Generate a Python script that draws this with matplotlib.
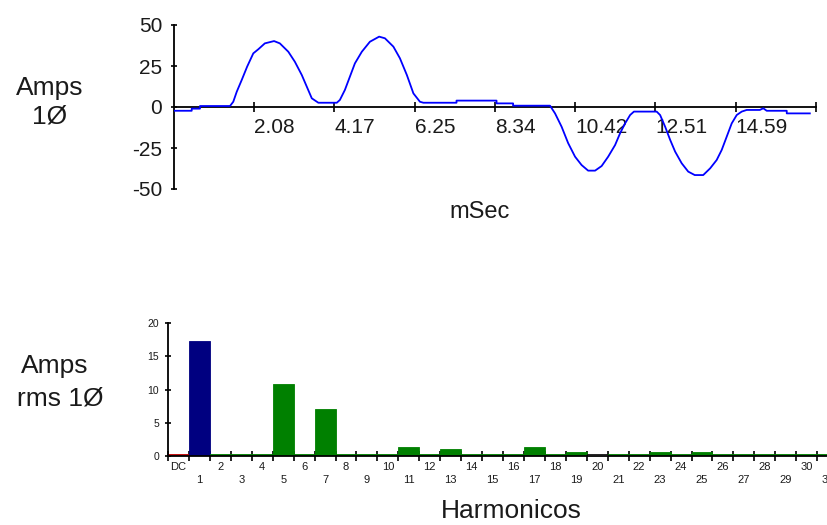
import numpy as np
import matplotlib
matplotlib.use("Agg")
import matplotlib.pyplot as plt

plt.rcParams['font.family'] = ['Liberation Sans', 'DejaVu Sans']

# --- Current waveform (time in ms, current in A) ---
wave_t = [0.00, 0.46, 0.46, 0.675, 0.675, 1.455, 1.54, 1.63, 1.76, 1.90, 2.06,
          2.19, 2.36, 2.60, 2.75, 2.97, 3.14, 3.32, 3.45, 3.58, 3.75, 4.23,
          4.31, 4.44, 4.57, 4.70, 4.88, 5.09, 5.33, 5.48, 5.70, 5.87, 6.05,
          6.22, 6.39, 6.48, 7.34, 7.34, 8.38, 8.38, 8.81, 8.81, 9.77, 9.90,
          10.07, 10.24, 10.42, 10.59, 10.76, 10.94, 11.11, 11.28, 11.46, 11.59,
          11.72, 11.85, 11.95, 12.54, 12.63, 12.76, 12.89, 13.02, 13.19, 13.36,
          13.53, 13.75, 13.93, 14.10, 14.23, 14.36, 14.49, 14.62, 14.75, 14.88,
          15.22, 15.31, 15.40, 15.92, 15.92, 16.52]
wave_a = [-2.3, -2.3, -1.0, -1.0, 0.6, 0.6, 3.2, 9.3, 16.5, 24.6, 32.7,
          35.2, 38.8, 40.2, 38.8, 33.7, 27.6, 19.5, 12.4, 5.3, 2.6, 2.6,
          4.3, 10.4, 18.5, 26.6, 33.7, 39.8, 42.9, 41.9, 36.8, 29.7, 19.5,
          8.3, 3.2, 2.6, 2.6, 3.9, 3.9, 2.2, 2.2, 0.8, 0.8, -3.9,
          -12.0, -22.0, -30.3, -35.4, -38.8, -38.8, -36.0, -30.3, -23.2, -16.0,
          -10.0, -4.9, -2.8, -2.8, -4.9, -12.0, -20.0, -27.2, -34.3, -39.4,
          -41.5, -41.5, -37.4, -32.3, -26.2, -18.1, -10.0, -4.9, -2.8, -1.8,
          -1.8, -0.8, -2.3, -2.3, -3.9, -3.9]

ms_ticks = [2.085, 4.17, 6.255, 8.34, 10.425, 12.51, 14.595, 16.68]
ms_labels = ['2.08', '4.17', '6.25', '8.34', '10.42', '12.51', '14.59', '']
amp_ticks = [50, 25, 0, -25, -50]
amp_labels = ['50', '25', '0', '-25', '-50']

# --- Harmonic spectrum (A rms) ---
harm_names = ['DC'] + [str(n) for n in range(1, 32)]
harm_values = [0.25, 17.3, 0.35, 0.35, 0.35, 10.9, 0.35, 7.0, 0.35, 0.35,
               0.35, 1.3, 0.35, 1.0, 0.35, 0.35, 0.35, 1.3, 0.35, 0.65,
               0.3, 0.35, 0.35, 0.65, 0.35, 0.65, 0.35, 0.35, 0.35, 0.35,
               0.35, 0.35]
harm_kind = ['dc', 'fund'] + ['harm'] * 18 + ['none'] + ['harm'] * 11
rms_ticks = [0, 5, 10, 15, 20]

kind_face = {'dc': '#c00000', 'fund': '#000080', 'harm': '#008000', 'none': 'white'}
kind_edge = {'dc': '#c00000', 'fund': '#000080', 'harm': '#008000', 'none': 'black'}

W, H = 828, 525
fig = plt.figure(figsize=(W / 100, H / 100), dpi=100)
txt = '#1a1a1a'

# ---------- waveform panel ----------
ax1 = fig.add_axes([174 / W, 1 - 189 / H, (816 - 174) / W, (189 - 25) / H])
ax1.plot(wave_t, wave_a, color='#0000ff', lw=1.3, zorder=3)
ax1.set_xlim(0, 16.68)
ax1.set_ylim(-50, 50)
for s in ('top', 'right'):
    ax1.spines[s].set_visible(False)
ax1.spines['bottom'].set_position(('data', 0))
for s in ('left', 'bottom'):
    ax1.spines[s].set_linewidth(1.3)
    ax1.spines[s].set_color('black')
ax1.set_xticks(ms_ticks)
ax1.set_xticklabels(ms_labels)
ax1.set_yticks(amp_ticks)
ax1.set_yticklabels(amp_labels)
ax1.tick_params(axis='x', direction='inout', length=7, width=1.2, pad=4.5,
                labelsize=15, labelcolor=txt)
ax1.tick_params(axis='y', direction='inout', length=5, width=1.2, pad=6,
                labelsize=15, labelcolor=txt)
for lbl in ax1.get_xticklabels():
    lbl.set_ha('left')
ax1.patch.set_visible(False)

fig.text(50 / W, 1 - 88 / H, 'Amps', ha='center', va='center', fontsize=19, color=txt)
fig.text(50 / W, 1 - 116 / H, '1Ø', ha='center', va='center', fontsize=19, color=txt)
fig.text(480 / W, 1 - 212 / H, 'mSec', ha='center', va='center', fontsize=17, color=txt)

# ---------- harmonics panel ----------
bin_w = 20.94
ax2 = fig.add_axes([168 / W, 1 - 456 / H, 32 * bin_w / W, 133 / H])
x = np.arange(len(harm_values))
ax2.bar(x, harm_values, width=1.0, align='edge',
        color=[kind_face[k] for k in harm_kind],
        edgecolor=[kind_edge[k] for k in harm_kind], linewidth=0.6, zorder=2)
ax2.set_xlim(0, 32)
ax2.set_ylim(0, 20)
for s in ('top', 'right'):
    ax2.spines[s].set_visible(False)
for s in ('left', 'bottom'):
    ax2.spines[s].set_linewidth(1.3)
    ax2.spines[s].set_color('black')
    ax2.spines[s].set_zorder(3)
ax2.set_yticks(rms_ticks)
ax2.tick_params(axis='y', direction='inout', length=5, width=1.2, pad=4,
                labelsize=7.5, labelcolor=txt)
ax2.set_xticks(np.arange(0, 33), minor=True)
ax2.set_xticks(x + 0.5)
ax2.set_xticklabels([n + '\n' if i % 2 == 0 else '\n' + n
                     for i, n in enumerate(harm_names)],
                    linespacing=1.3)
ax2.tick_params(axis='x', which='major', length=0, pad=4.5, labelsize=8,
                labelcolor=txt)
ax2.tick_params(axis='x', which='minor', direction='inout', length=7,
                width=1.2, zorder=4)
ax2.patch.set_visible(False)

fig.text(55 / W, 1 - 366 / H, 'Amps', ha='center', va='center', fontsize=19, color=txt)
fig.text(60 / W, 1 - 398 / H, 'rms 1Ø', ha='center', va='center', fontsize=19, color=txt)
fig.text(511 / W, 1 - 511 / H, 'Harmonicos', ha='center', va='center', fontsize=19, color=txt)

fig.savefig('out.png', dpi=100)
